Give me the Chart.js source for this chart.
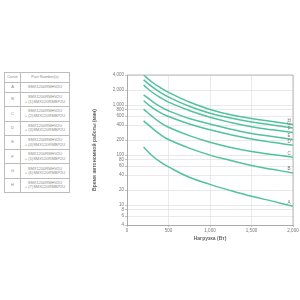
<!DOCTYPE html>
<html>
<head>
<meta charset="utf-8">
<script src="https://cdn.jsdelivr.net/npm/chart.js@4"></script>
<style>
    body { margin: 0; background: #fff; width: 300px; height: 300px; overflow: hidden; font-family: "Liberation Sans", Arial, sans-serif; }
    #chart { position: absolute; left: 0; top: 0; }
    table { position: absolute; left: 4px; top: 72px; width: 66px; border-collapse: collapse; font-size: 4px; color: #8a8a8a; table-layout: fixed; }
    th, td { border: 0.6px solid #bdbdbd; padding: 0; text-align: center; font-weight: normal; line-height: 4.6px; }
    th { height: 9px; }
    td.curve { width: 15px; }
</style>
</head>
<body>
<table id="parts"></table>
<canvas id="chart" width="300" height="300"></canvas>
<script>
// load in watts
const loads = [200, 300, 400, 500, 750, 1000, 1250, 1500, 1750, 2000];
const curveNames = ['A', 'B', 'C', 'D', 'E', 'F', 'G', 'H'];
// runtime in minutes, one list per curve
const curveA = [145, 98, 73, 58, 36, 26, 19.5, 15, 12, 9.5];
const curveB = [485, 350, 260, 205, 138, 100, 78, 62, 52, 44];
const curveC = [830, 600, 450, 360, 245, 180, 142, 118, 103, 91];
const curveD = [1220, 900, 710, 590, 420, 320, 255, 210, 180, 158];
const curveE = [1600, 1200, 930, 770, 540, 420, 330, 270, 235, 205];
const curveF = [2500, 1830, 1420, 1150, 780, 570, 450, 370, 320, 282];
const curveG = [3200, 2350, 1800, 1450, 950, 690, 550, 460, 400, 350];
const curveH = [4000, 2900, 2250, 1800, 1150, 820, 640, 540, 470, 410];
const yTicks = [4, 6, 8, 10, 20, 40, 60, 80, 100, 200, 400, 600, 800, 1000, 2000, 4000];
const xTicks = [0, 500, 1000, 1500, 2000];
const partNumbers = [
    ['SMX1200RMHV2U'],
    ['SMX1200RMHV2U', '+ (1)SMX120RMBP2U'],
    ['SMX1200RMHV2U', '+ (2)SMX120RMBP2U'],
    ['SMX1200RMHV2U', '+ (3)SMX120RMBP2U'],
    ['SMX1200RMHV2U', '+ (4)SMX120RMBP2U'],
    ['SMX1200RMHV2U', '+ (5)SMX120RMBP2U'],
    ['SMX1200RMHV2U', '+ (6)SMX120RMBP2U'],
    ['SMX1200RMHV2U', '+ (7)SMX120RMBP2U']
];

const allCurves = [curveA, curveB, curveC, curveD, curveE, curveF, curveG, curveH];
const lineColor = '#52c29c';
const textColor = '#777';

// part number table
const table = document.getElementById('parts');
let rows = '<tr><th style="width:15px">Curve</th><th>Part Number(s)</th></tr>';
curveNames.forEach((name, i) => {
    const h = partNumbers[i].length > 1 ? 14.3 : 10;
    rows += `<tr style="height:${h}px"><td class="curve">${name}</td><td>${partNumbers[i].join('<br>')}</td></tr>`;
});
table.innerHTML = rows;

const curveLetters = {
    id: 'curveLetters',
    afterDatasetsDraw(chart) {
        const ctx = chart.ctx;
        ctx.save();
        ctx.font = '4.5px "Liberation Sans", Arial, sans-serif';
        ctx.fillStyle = textColor;
        ctx.textAlign = 'center';
        ctx.textBaseline = 'bottom';
        chart.data.datasets.forEach((ds, i) => {
            const pts = chart.getDatasetMeta(i).data;
            const last = pts[pts.length - 1];
            ctx.fillText(ds.label, last.x - 4, last.y - 1.5);
        });
        ctx.restore();
    }
};

new Chart(document.getElementById('chart').getContext('2d'), {
    type: 'line',
    data: {
        datasets: allCurves.map((values, i) => ({
            label: curveNames[i],
            data: loads.map((x, j) => ({ x: x, y: values[j] })),
            borderColor: lineColor,
            borderWidth: 1.5,
            pointRadius: 0,
            fill: false,
            tension: 0.4
        }))
    },
    options: {
        responsive: false,
        animation: false,
        layout: { padding: { left: 92, right: 7, top: 75, bottom: 58 } },
        plugins: { legend: { display: false }, tooltip: { enabled: false } },
        scales: {
            x: {
                type: 'linear',
                min: 0,
                max: 2000,
                afterBuildTicks: scale => { scale.ticks = xTicks.map(v => ({ value: v })); },
                afterFit: scale => { scale.height = 17; },
                ticks: {
                    color: textColor,
                    font: { size: 4.5 },
                    padding: 1,
                    maxRotation: 0,
                    callback: v => v.toLocaleString('en-US')
                },
                grid: { color: '#dcdcdc', lineWidth: 0.6, tickLength: 2, tickColor: '#999' },
                border: { color: '#999', width: 0.8 },
                title: {
                    display: true,
                    text: 'Нагрузка (Вт)',
                    color: '#666',
                    font: { size: 5, weight: 'bold' },
                    padding: { top: 1, bottom: 0 }
                }
            },
            y: {
                type: 'logarithmic',
                min: 4,
                max: 4000,
                afterBuildTicks: scale => { scale.ticks = yTicks.map(v => ({ value: v })); },
                afterFit: scale => { scale.width = 35; },
                ticks: {
                    color: textColor,
                    font: { size: 4.5 },
                    padding: 1,
                    autoSkip: false,
                    callback: v => v.toLocaleString('en-US')
                },
                grid: { color: '#dcdcdc', lineWidth: 0.6, tickLength: 2, tickColor: '#999' },
                border: { color: '#999', width: 0.8 },
                title: {
                    display: true,
                    text: 'Время автономной работы (мин)',
                    color: '#666',
                    font: { size: 5, weight: 'bold' },
                    padding: 0
                }
            }
        }
    },
    plugins: [curveLetters, {
        id: 'frame',
        afterDraw(chart) {
            const a = chart.chartArea;
            const ctx = chart.ctx;
            ctx.save();
            ctx.strokeStyle = '#aaa';
            ctx.lineWidth = 0.8;
            ctx.beginPath();
            ctx.moveTo(a.left, a.top);
            ctx.lineTo(a.right, a.top);
            ctx.lineTo(a.right, a.bottom);
            ctx.stroke();
            ctx.restore();
        }
    }]
});
</script>
</body>
</html>
